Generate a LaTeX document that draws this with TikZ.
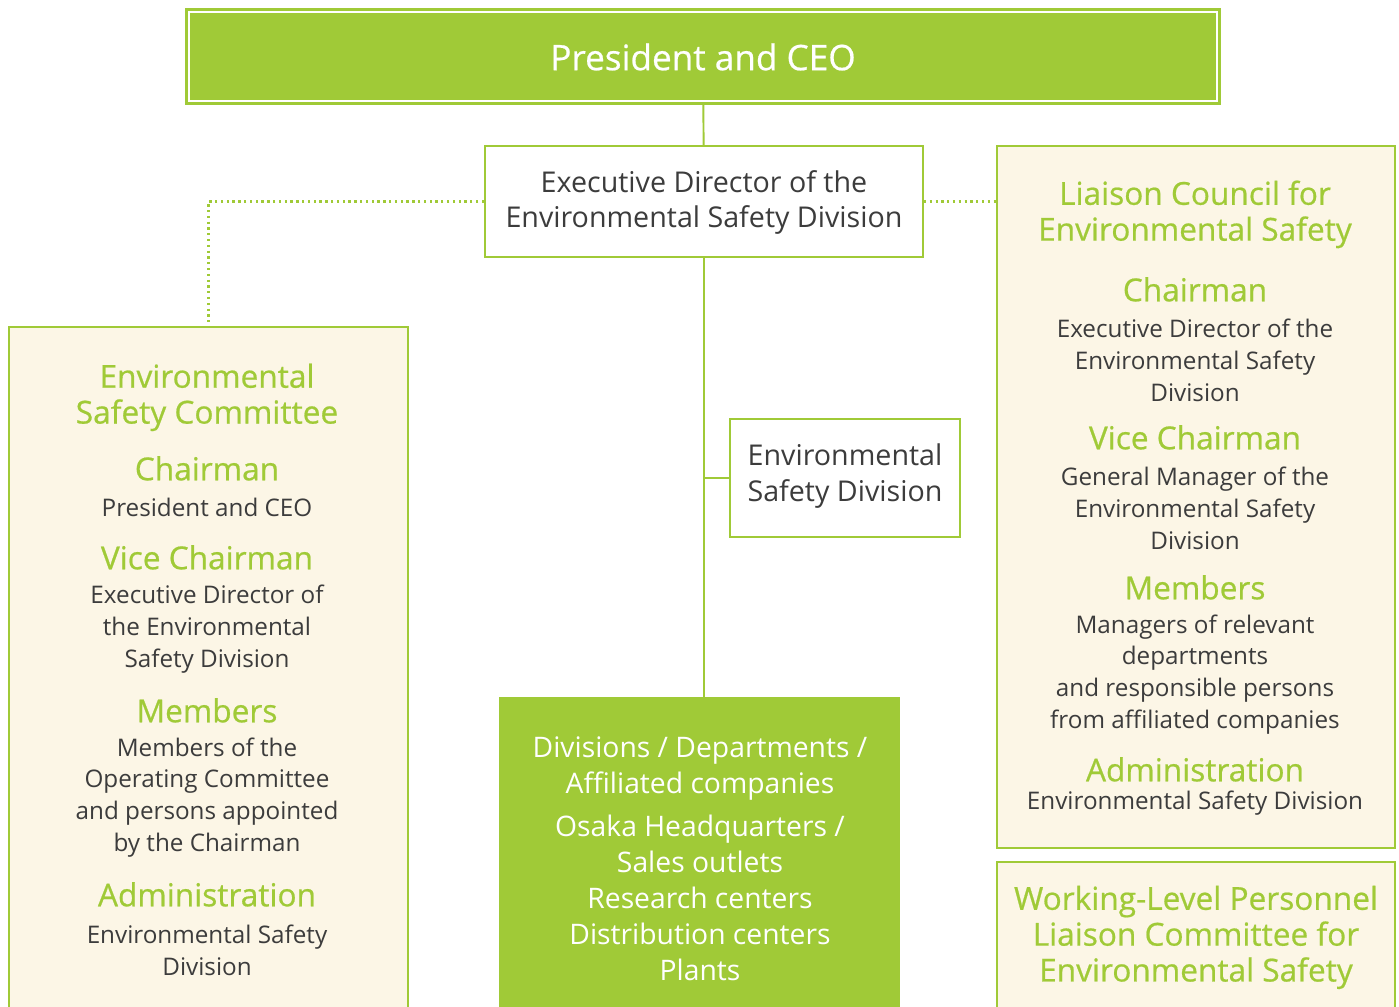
\documentclass[tikz,border=0pt]{standalone}
\usepackage{fontspec}
\setmainfont{Open Sans}
\newfontfamily\headfont{Open Sans}[FakeBold=0.6]
\usetikzlibrary{calc}
\usetikzlibrary{positioning}
\definecolor{leaf}{HTML}{A0CA37}
\definecolor{cream}{HTML}{FCF6E6}
\definecolor{ink}{HTML}{3C3C3C}

\begin{document}
\begin{tikzpicture}[
        x=0.02cm, y=-0.02cm,
        every node/.style={inner sep=0pt, align=center},
        box/.style={draw=leaf, line width=1.1pt},
        whitebox/.style={box, fill=white},
        greenbox/.style={box, fill=leaf},
        panel/.style={box, fill=cream},
        label/.style={yshift=-0.8pt},
        head/.style={label, text=leaf, font=\headfont\fontsize{18}{20.4}\selectfont},
        body/.style={label, text=ink, font=\fontsize{13.8}{18.1}\selectfont},
        link/.style={draw=leaf, line width=1.1pt},
        loose/.style={draw=leaf, line width=1.3pt, dotted}]

        \useasboundingbox (0,0) rectangle (1399,1007);

        % boxes
        \node[greenbox, minimum width=20.68cm, minimum height=1.9cm] (ceo) at (703,56.5) {};
        \node[whitebox, minimum width=8.76cm, minimum height=2.22cm] (exec) at (704,201.5) {};
        \node[whitebox, minimum width=4.6cm, minimum height=2.36cm] (esd) at (845,478) {};
        \node[greenbox, minimum width=7.98cm, minimum height=6.44cm] (units) at (699.5,859) {};
        \node[panel, minimum width=7.98cm, minimum height=13.86cm] (esc) at (208.5,673.5) {};
        \node[panel, minimum width=7.96cm, minimum height=14.04cm] (lces) at (1196,497) {};
        \node[panel, minimum width=7.96cm, minimum height=3.16cm] (wlpc) at (1196,941) {};
        \draw[white, line width=0.9pt] ([shift={(4,4)}]ceo.north west) rectangle ([shift={(-4,-4)}]ceo.south east);

        % connectors
        \draw[link] (ceo) -- (exec);
        \draw[link] (exec.south) -- (exec.south |- units.north);
        \draw[link] (exec.south |- esd.west) -- (esd.west);
        \draw[loose] (exec.west) -| (esc.north);
        \draw[loose] (exec.east) -- (exec.east -| lces.west);

        % texts of the main line
        \node[text=white, font=\headfont\fontsize{20}{24}\selectfont] (ceoT) at (703,57) {President and CEO};
        \node[label, text=ink, font=\fontsize{16.3}{20.4}\selectfont] (execT) at (704,201) {Executive Director of the\\Environmental Safety Division};
        \node[label, text=ink, font=\fontsize{16.3}{20.4}\selectfont] (esdT) at (845,475) {Environmental\\Safety Division};
        \node[text=white, font=\fontsize{16.1}{20.4}\selectfont] (unitsT) at (700,858.5) {Divisions / Departments /\\Affiliated companies\\[4.5pt]
            Osaka Headquarters /\\Sales outlets\\Research centers\\Distribution centers\\Plants};

        % Environmental Safety Committee
        \node[head] (escH) at (207,396) {Environmental\\Safety Committee};
        \node[head] (escC) at (207,467) {Chairman};
        \node[body] (escCb) at (207,506) {President and CEO};
        \node[head] (escV) at (207,556) {Vice Chairman};
        \node[body] (escVb) at (207,628) {Executive Director of\\the Environmental\\Safety Division};
        \node[head] (escM) at (207,709) {Members};
        \node[body] (escMb) at (207,796) {Members of the\\Operating Committee\\and persons appointed\\by the Chairman};
        \node[head] (escA) at (207,893) {Administration};
        \node[body] (escAb) at (207,949) {Environmental Safety\\Division};

        % Liaison Council for Environmental Safety
        \node[head] (lcesH) at (1195,213) {Liaison Council for\\Environmental Safety};
        \node[head] (lcesC) at (1195,288) {Chairman};
        \node[body] (lcesCb) at (1195,359) {Executive Director of the\\Environmental Safety\\Division};
        \node[head] (lcesV) at (1195,436) {Vice Chairman};
        \node[body] (lcesVb) at (1195,507) {General Manager of the\\Environmental Safety\\Division};
        \node[head] (lcesM) at (1195,586) {Members};
        \node[body] (lcesMb) at (1195,673) {Managers of relevant\\departments\\and responsible persons\\from affiliated companies};
        \node[head] (lcesA) at (1195,768) {Administration};
        \node[body] (lcesAb) at (1195,802) {Environmental Safety Division};

        % Working-Level Personnel Liaison Committee
        \node[head] (wlpcH) at (1196,936) {Working-Level Personnel\\Liaison Committee for\\Environmental Safety};

    \end{tikzpicture}
\end{document}
